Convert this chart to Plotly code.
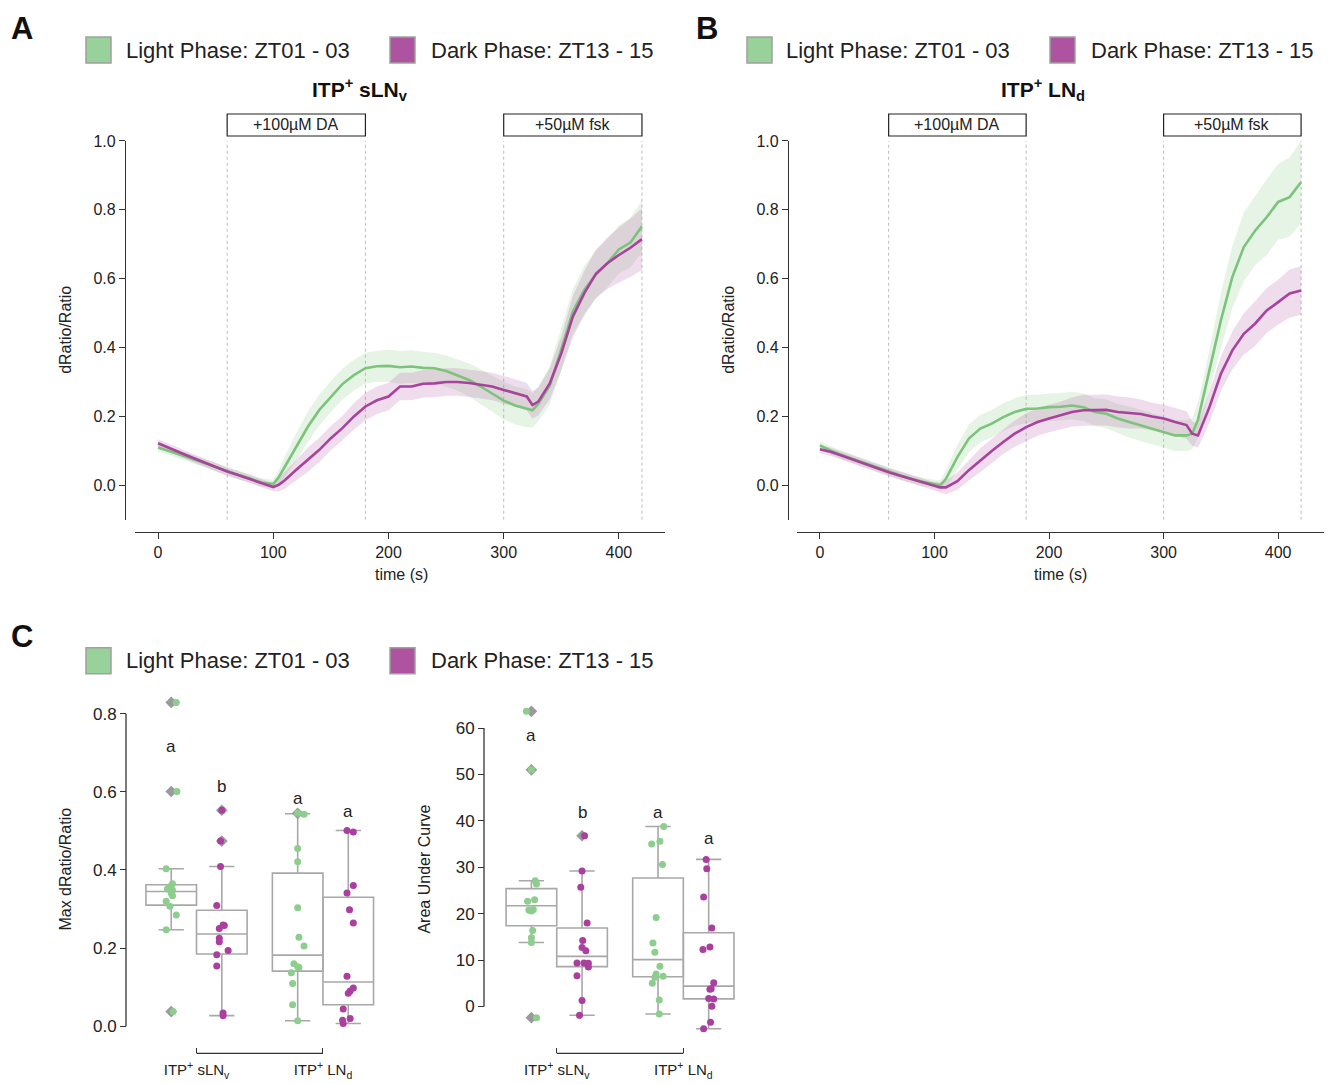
import plotly.graph_objects as go

W, H = 1328, 1084
# the photographed page sits 8 px lower and is squeezed slightly; compensate vertically
PAGE_TOP = 8
SQUEEZE = 0.9932
FONT = "Liberation Sans, Arial, Helvetica, sans-serif"
TXT = "#222222"
AX = "#333333"
GREEN_LINE = "#7CC47C"
PURPLE_LINE = "#A8429C"
GREEN_FILL = "rgba(140,205,140,0.22)"
PURPLE_FILL = "rgba(175,80,160,0.20)"
GREEN_SW = "#99D19A"
PURPLE_SW = "#AE539F"
DOT_G = "#8DCD8D"
DOT_P = "#AA3FA0"
BOX_GREY = "#A8A8A8"
FLIER = "#9A9A9A"

# ---------------- time-course data (panels A & B) ----------------
time_s = [0, 10, 20, 30, 40, 50, 60, 70, 80, 90, 100, 105, 110, 120, 130, 140, 150, 160,
          170, 180, 190, 200, 210, 220, 230, 240, 250, 260, 270, 280, 290, 300, 310, 320,
          325, 330, 340, 350, 360, 370, 380, 390, 400, 410, 420]

slnv_light_mean = [0.110, 0.100, 0.088, 0.076, 0.064, 0.052, 0.040, 0.030, 0.020, 0.008, 0.004,
                   0.025, 0.054,
                   0.112, 0.170, 0.219, 0.258, 0.294, 0.320, 0.340, 0.346, 0.347, 0.343, 0.345,
                   0.341, 0.340, 0.332, 0.320, 0.306, 0.287, 0.266, 0.246, 0.232, 0.224,
                   0.218,
                   0.236, 0.290, 0.395, 0.505, 0.568, 0.612, 0.645, 0.685, 0.705, 0.752]
slnv_light_sem = [0.012] * 11 + [0.020, 0.030] + \
                 [0.040, 0.045, 0.045, 0.045, 0.045, 0.045, 0.045, 0.045, 0.047, 0.047, 0.047,
                  0.047, 0.045, 0.045, 0.045, 0.048, 0.050, 0.052, 0.055, 0.055, 0.055] + \
                 [0.050] + \
                 [0.050, 0.055, 0.060, 0.065, 0.070, 0.070, 0.070, 0.070, 0.072, 0.075]

slnv_dark_mean = [0.122, 0.107, 0.094, 0.080, 0.066, 0.053, 0.040, 0.029, 0.018, 0.006, -0.005,
                  0.002, 0.015,
                  0.045, 0.074, 0.103, 0.137, 0.166, 0.200, 0.229, 0.247, 0.258, 0.287, 0.287,
                  0.295, 0.296, 0.300, 0.300, 0.297, 0.292, 0.287, 0.277, 0.268, 0.258,
                  0.233,
                  0.243, 0.296, 0.383, 0.490, 0.558, 0.614, 0.645, 0.669, 0.690, 0.715]
slnv_dark_sem = [0.012] * 11 + [0.020, 0.025] + \
                [0.030, 0.035, 0.035, 0.035, 0.035, 0.038, 0.040, 0.040, 0.040, 0.040, 0.040,
                 0.040, 0.040, 0.040, 0.040, 0.040, 0.040, 0.040, 0.040, 0.040, 0.040] + \
                [0.040] + \
                [0.040, 0.045, 0.050, 0.060, 0.065, 0.070, 0.075, 0.080, 0.085, 0.090]

lnd_light_mean = [0.116, 0.100, 0.087, 0.075, 0.063, 0.051, 0.039, 0.029, 0.019, 0.010, 0.004,
                  0.000, 0.019,
                  0.082, 0.136, 0.165, 0.179, 0.198, 0.213, 0.222, 0.223, 0.227, 0.228, 0.232,
                  0.227, 0.213, 0.208, 0.194, 0.184, 0.174, 0.165, 0.155, 0.145, 0.145,
                  0.150,
                  0.190, 0.334, 0.479, 0.605, 0.692, 0.740, 0.779, 0.823, 0.837, 0.881]
lnd_light_sem = [0.012] * 11 + [0.015, 0.025] + \
                [0.035, 0.040, 0.040, 0.040, 0.040, 0.040, 0.040, 0.040, 0.040, 0.040, 0.040,
                 0.040, 0.040, 0.042, 0.042, 0.045, 0.045, 0.045, 0.045, 0.045, 0.045] + \
                [0.045] + \
                [0.050, 0.060, 0.080, 0.090, 0.100, 0.100, 0.110, 0.110, 0.115, 0.120]

lnd_dark_mean = [0.105, 0.097, 0.085, 0.073, 0.062, 0.050, 0.038, 0.028, 0.018, 0.007, -0.003,
                 -0.006, -0.006,
                 0.012, 0.044, 0.073, 0.100, 0.126, 0.150, 0.169, 0.184, 0.194, 0.203, 0.213,
                 0.218, 0.218, 0.219, 0.213, 0.210, 0.207, 0.200, 0.194, 0.184, 0.175,
                 0.150,
                 0.145, 0.227, 0.324, 0.392, 0.440, 0.470, 0.508, 0.532, 0.557, 0.566]
lnd_dark_sem = [0.012] * 11 + [0.015, 0.020] + \
               [0.025, 0.030, 0.035, 0.035, 0.035, 0.038, 0.040, 0.040, 0.040, 0.040, 0.042,
                0.045, 0.045, 0.045, 0.045, 0.045, 0.042, 0.040, 0.040, 0.040, 0.040] + \
               [0.035] + \
               [0.035, 0.045, 0.050, 0.055, 0.060, 0.065, 0.065, 0.065, 0.070, 0.070]

stim_windows = [(60, 180, "+100µM DA"), (300, 420, "+50µM fsk")]
time_ticks = [0, 100, 200, 300, 400]
ratio_ticks = [0.0, 0.2, 0.4, 0.6, 0.8, 1.0]

# ---------------- summary data (panel C) ----------------
cat_labels = ["ITP<sup>+</sup> sLN<sub>v</sub>", "ITP<sup>+</sup> LN<sub>d</sub>"]

# Max dRatio/Ratio: points (value) and their strip offsets
max_slnv_light = [0.829, 0.601, 0.403, 0.365, 0.357, 0.351, 0.348, 0.341, 0.334, 0.320, 0.307, 0.285, 0.247, 0.0375]
max_slnv_light_jit = [0.04, 0.045, -0.04, 0.01, -0.01, -0.03, 0.01, 0.0, 0.01, -0.04, -0.01, 0.04, -0.04, 0.015]
max_slnv_dark = [0.553, 0.474, 0.409, 0.309, 0.259, 0.258, 0.250, 0.225, 0.216, 0.194, 0.183, 0.154, 0.034, 0.027]
max_slnv_dark_jit = [0.0, -0.01, -0.01, -0.04, 0.01, 0.02, -0.02, -0.02, -0.02, 0.05, -0.04, -0.04, 0.01, 0.01]
max_lnd_light = [0.545, 0.543, 0.455, 0.421, 0.303, 0.228, 0.205, 0.160, 0.152, 0.150, 0.137, 0.109, 0.055, 0.014]
max_lnd_light_jit = [0.0, 0.05, 0.0, 0.0, 0.0, 0.01, 0.05, -0.03, 0.0, 0.01, -0.05, -0.04, -0.04, 0.0]
max_lnd_dark = [0.501, 0.497, 0.360, 0.341, 0.298, 0.264, 0.128, 0.098, 0.090, 0.084, 0.044, 0.0196, 0.015, 0.007]
max_lnd_dark_jit = [-0.01, 0.04, 0.04, -0.01, 0.01, 0.04, -0.01, 0.04, 0.015, 0.0, -0.04, 0.015, -0.045, -0.04]
# box statistics in order sLNv-light, sLNv-dark, LNd-light, LNd-dark
max_q1 = [0.310, 0.185, 0.141, 0.055]
max_med = [0.345, 0.236, 0.182, 0.113]
max_q3 = [0.362, 0.297, 0.392, 0.330]
max_lo = [0.247, 0.027, 0.014, 0.007]
max_hi = [0.403, 0.409, 0.544, 0.501]
max_letters = ["a", "b", "a", "a"]
max_letter_y = [0.716, 0.614, 0.584, 0.550]

auc_slnv_light = [63.6, 51.0, 27.1, 26.4, 23.0, 22.7, 20.9, 20.8, 20.6, 16.4, 14.8, 13.8, -2.4]
auc_slnv_light_jit = [-0.04, 0.0, 0.03, 0.04, 0.025, -0.03, 0.015, -0.02, 0.0, 0.01, 0.0, 0.0, 0.04]
auc_slnv_dark = [36.8, 29.2, 25.7, 18.0, 14.2, 12.7, 12.0, 9.4, 9.4, 9.3, 8.5, 6.6, 1.3, -1.9]
auc_slnv_dark_jit = [0.02, 0.0, -0.01, 0.04, 0.005, 0.0, 0.03, -0.04, 0.015, 0.05, 0.05, -0.04, 0.0, -0.02]
auc_lnd_light = [38.8, 35.6, 35.0, 30.6, 19.2, 13.7, 11.7, 8.7, 7.0, 6.5, 6.3, 5.0, 1.4, -1.6]
auc_lnd_light_jit = [0.045, 0.015, -0.05, 0.035, -0.015, -0.04, -0.025, 0.015, -0.015, 0.04, -0.025, -0.045, 0.01, 0.01]
auc_lnd_dark = [31.7, 29.7, 23.6, 16.9, 12.8, 12.3, 5.1, 3.8, 3.7, 1.7, 1.6, 0.07, -3.4, -4.8]
auc_lnd_dark_jit = [-0.02, -0.015, -0.04, 0.025, 0.01, -0.045, 0.04, 0.02, 0.01, 0.0, 0.04, 0.025, 0.015, -0.04]
auc_q1 = [17.4, 8.6, 6.4, 1.65]
auc_med = [21.7, 10.8, 10.1, 4.4]
auc_q3 = [25.4, 16.9, 27.7, 15.9]
auc_lo = [13.8, -1.9, -1.6, -4.8]
auc_hi = [27.1, 29.2, 38.8, 31.7]
auc_letters = ["a", "b", "a", "a"]
auc_letter_y = [58.4, 41.7, 41.7, 36.1]


def fx(p):
    return p / W


def fy(p):
    return 1 - (p / SQUEEZE - PAGE_TOP) / H


fig = go.Figure()
shapes = []
annotations = []


def add_timecourse(xa, ya, light_m, light_s, dark_m, dark_s):
    for m, s, fill in [(light_m, light_s, GREEN_FILL), (dark_m, dark_s, PURPLE_FILL)]:
        up = [a + b for a, b in zip(m, s)]
        lo = [a - b for a, b in zip(m, s)]
        fig.add_trace(go.Scatter(x=time_s, y=up, xaxis=xa, yaxis=ya, mode="lines",
                                 line=dict(width=0), hoverinfo="skip", showlegend=False))
        fig.add_trace(go.Scatter(x=time_s, y=lo, xaxis=xa, yaxis=ya, mode="lines",
                                 line=dict(width=0), fill="tonexty", fillcolor=fill,
                                 hoverinfo="skip", showlegend=False))
    for m, col in [(light_m, GREEN_LINE), (dark_m, PURPLE_LINE)]:
        fig.add_trace(go.Scatter(x=time_s, y=m, xaxis=xa, yaxis=ya, mode="lines",
                                 line=dict(color=col, width=2.6), showlegend=False))
    for x0, x1, label in stim_windows:
        for xv in (x0, x1):
            shapes.append(dict(type="line", xref=xa, yref=ya, x0=xv, x1=xv, y0=-0.1, y1=1.0,
                               line=dict(color="#BBBBBB", width=1, dash="3px,3px"), layer="below"))
        shapes.append(dict(type="rect", xref=xa, yref="paper", x0=x0, x1=x1,
                           y0=fy(136), y1=fy(114), line=dict(color="#222222", width=1.2),
                           fillcolor="white"))
        annotations.append(dict(x=(x0 + x1) / 2, y=fy(125), xref=xa, yref="paper", text=label,
                                showarrow=False, font=dict(size=16, color=TXT),
                                xanchor="center", yanchor="middle"))


add_timecourse("x", "y", slnv_light_mean, slnv_light_sem, slnv_dark_mean, slnv_dark_sem)
add_timecourse("x2", "y2", lnd_light_mean, lnd_light_sem, lnd_dark_mean, lnd_dark_sem)


def add_summary(xa, ya, groups, q1, med, q3, lo, hi, letters, letter_y):
    offsets = [-0.2, 0.2, 0.8, 1.2]
    cols = [DOT_G, DOT_P, DOT_G, DOT_P]
    for i, (vals, jit) in enumerate(groups):
        pos = offsets[i]
        fig.add_trace(go.Box(x=[pos], q1=[q1[i]], median=[med[i]], q3=[q3[i]],
                             lowerfence=[lo[i]], upperfence=[hi[i]], width=0.4, whiskerwidth=0.5,
                             line=dict(color=BOX_GREY, width=1.6), fillcolor="rgba(255,255,255,0)",
                             boxpoints=False, xaxis=xa, yaxis=ya, hoverinfo="skip", showlegend=False))
        fl = [v for v in vals if v > hi[i] + 1e-9 or v < lo[i] - 1e-9]
        if fl:
            fig.add_trace(go.Scatter(x=[pos] * len(fl), y=fl, xaxis=xa, yaxis=ya, mode="markers",
                                     marker=dict(symbol="diamond", size=9, color=FLIER),
                                     hoverinfo="skip", showlegend=False))
        fig.add_trace(go.Scatter(x=[pos + j for j in jit], y=vals, xaxis=xa, yaxis=ya, mode="markers",
                                 marker=dict(size=7, color=cols[i]), showlegend=False))
        annotations.append(dict(x=pos, y=letter_y[i], xref=xa, yref=ya, text=letters[i],
                                showarrow=False, font=dict(size=17, color=TXT)))


add_summary("x3", "y3",
            [(max_slnv_light, max_slnv_light_jit), (max_slnv_dark, max_slnv_dark_jit),
             (max_lnd_light, max_lnd_light_jit), (max_lnd_dark, max_lnd_dark_jit)],
            max_q1, max_med, max_q3, max_lo, max_hi, max_letters, max_letter_y)
add_summary("x4", "y4",
            [(auc_slnv_light, auc_slnv_light_jit), (auc_slnv_dark, auc_slnv_dark_jit),
             (auc_lnd_light, auc_lnd_light_jit), (auc_lnd_dark, auc_lnd_dark_jit)],
            auc_q1, auc_med, auc_q3, auc_lo, auc_hi, auc_letters, auc_letter_y)

# trimmed spines for panel C
shapes.append(dict(type="line", xref="paper", yref="y3", x0=fx(126), x1=fx(126), y0=0, y1=0.8,
                   line=dict(color=AX, width=1.3)))
shapes.append(dict(type="line", xref="paper", yref="y4", x0=fx(484), x1=fx(484), y0=0, y1=60,
                   line=dict(color=AX, width=1.3)))
shapes.append(dict(type="line", xref="x3", yref="paper", x0=0, x1=1, y0=fy(1054), y1=fy(1054),
                   line=dict(color=AX, width=1.3)))
shapes.append(dict(type="line", xref="x4", yref="paper", x0=0, x1=1, y0=fy(1054), y1=fy(1054),
                   line=dict(color=AX, width=1.3)))

# legends (swatch + label), panel letters, titles, axis titles
legend_rows = [(50, 86, 124, 390, 429), (50, 747, 784, 1050, 1089), (661, 86, 124, 390, 429)]
for yc, gx, gt, px_, pt in legend_rows:
    shapes.append(dict(type="rect", xref="paper", yref="paper", x0=fx(gx), x1=fx(gx + 25),
                       y0=fy(yc + 13), y1=fy(yc - 13), fillcolor=GREEN_SW,
                       line=dict(color="#A0A0A0", width=1.5)))
    shapes.append(dict(type="rect", xref="paper", yref="paper", x0=fx(px_), x1=fx(px_ + 25),
                       y0=fy(yc + 13), y1=fy(yc - 13), fillcolor=PURPLE_SW,
                       line=dict(color="#A0A0A0", width=1.5)))
    annotations.append(dict(x=fx(gt), y=fy(yc), xref="paper", yref="paper",
                            text="Light Phase: ZT01 - 03", showarrow=False, xanchor="left",
                            yanchor="middle", font=dict(size=22, color=TXT)))
    annotations.append(dict(x=fx(pt), y=fy(yc), xref="paper", yref="paper",
                            text="Dark Phase: ZT13 - 15", showarrow=False, xanchor="left",
                            yanchor="middle", font=dict(size=22, color=TXT)))

for letter, lx, ly in [("A", 22, 28), ("B", 707, 28), ("C", 22, 637)]:
    annotations.append(dict(x=fx(lx), y=fy(ly), xref="paper", yref="paper", text="<b>%s</b>" % letter,
                            showarrow=False, xanchor="center", yanchor="middle",
                            font=dict(size=31, color="#111111")))

for title, tx in [("<b>ITP<sup>+</sup> sLN<sub>v</sub></b>", 360), ("<b>ITP<sup>+</sup> LN<sub>d</sub></b>", 1043)]:
    annotations.append(dict(x=fx(tx), y=fy(89), xref="paper", yref="paper", text=title,
                            showarrow=False, xanchor="center", yanchor="middle",
                            font=dict(size=21, color="#111111")))

for text, ax_, ay_, rot in [("dRatio/Ratio", 66, 330, -90), ("dRatio/Ratio", 729, 330, -90),
                             ("time (s)", 401, 575, 0), ("time (s)", 1060, 575, 0),
                             ("Max dRatio/Ratio", 66, 870, -90), ("Area Under Curve", 425, 870, -90)]:
    annotations.append(dict(x=fx(ax_), y=fy(ay_), xref="paper", yref="paper", text=text,
                            showarrow=False, textangle=rot, xanchor="center", yanchor="middle",
                            font=dict(size=16, color=TXT)))

common = dict(showgrid=False, zeroline=False, tickcolor=AX, ticklen=6, tickwidth=1.2,
              tickfont=dict(size=16, color=TXT), linecolor=AX, linewidth=1.3)
cfont = dict(size=17, color=TXT)
catx = {**common, "ticklen": 5, "tickfont": dict(size=15, color=TXT), "ticklabelstandoff": 6}

fig.update_layout(
    width=W, height=H, margin=dict(l=0, r=0, t=0, b=0),
    paper_bgcolor="white", plot_bgcolor="rgba(0,0,0,0)",
    font=dict(family=FONT, color=TXT), showlegend=False,
    xaxis=dict(domain=[fx(135), fx(665)], range=[-20, 440], anchor="free", position=fy(532),
               showline=True, ticks="outside", tickvals=time_ticks, **common),
    yaxis=dict(domain=[fy(520), fy(141)], range=[-0.1, 1.0], anchor="free", position=fx(125),
               showline=True, ticks="outside", tickvals=ratio_ticks,
               ticktext=["%.1f" % v for v in ratio_ticks], **common),
    xaxis2=dict(domain=[fx(797), fx(1324)], range=[-20, 440], anchor="free", position=fy(532),
                showline=True, ticks="outside", tickvals=time_ticks, **common),
    yaxis2=dict(domain=[fy(520), fy(141)], range=[-0.1, 1.0], anchor="free", position=fx(788),
                showline=True, ticks="outside", tickvals=ratio_ticks,
                ticktext=["%.1f" % v for v in ratio_ticks], **common),
    xaxis3=dict(domain=[fx(130), fx(380)], range=[-0.526, 1.451], anchor="free", position=fy(1054),
                showline=False, ticks="inside", tickvals=[0, 1], ticktext=cat_labels, **catx),
    yaxis3=dict(domain=[fy(1040), fy(695)], range=[-0.034, 0.849], anchor="free", position=fx(126),
                showline=False, ticks="outside", tickvals=[0, 0.2, 0.4, 0.6, 0.8],
                ticktext=["0.0", "0.2", "0.4", "0.6", "0.8"], **{**common, "tickfont": cfont}),
    xaxis4=dict(domain=[fx(490), fx(745)], range=[-0.527, 1.487], anchor="free", position=fy(1054),
                showline=False, ticks="inside", tickvals=[0, 1], ticktext=cat_labels, **catx),
    yaxis4=dict(domain=[fy(1040), fy(695)], range=[-7.1, 67.2], anchor="free", position=fx(484),
                showline=False, ticks="outside", tickvals=[0, 10, 20, 30, 40, 50, 60],
                **{**common, "tickfont": cfont}),
    shapes=shapes, annotations=annotations,
)

fig.write_html(
    "out.html", config={"displayModeBar": False},
    post_script="document.body.style.margin='0px';document.body.style.padding='0px';",
)
